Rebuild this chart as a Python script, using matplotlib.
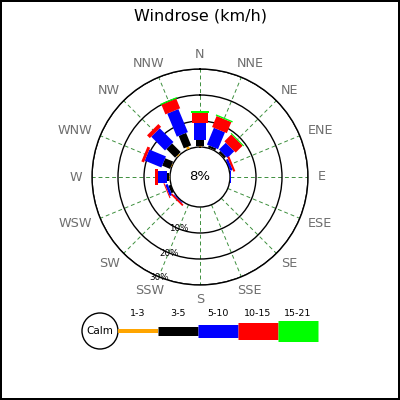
import numpy as np
import matplotlib
matplotlib.use("Agg")
import matplotlib.pyplot as plt
from matplotlib.patches import Circle

# wind directions, clockwise from north
directions = ['N', 'NNE', 'NE', 'ENE', 'E', 'ESE', 'SE', 'SSE',
              'S', 'SSW', 'SW', 'WSW', 'W', 'WNW', 'NW', 'NNW']

# percentage of time per speed range (km/h) and direction
ranges = ['1-3', '3-5', '5-10', '10-15', '15-21']
r_1_3 = [0.2, 0.2, 0.2, 0.0, 0.0, 0.0, 0.0, 0.0, 0.0, 0.0, 0.0, 0.0, 0.2, 0.3, 0.5, 1.0]
r_3_5 = [2.4, 0.8, 0.9, 0.2, 0.1, 0.0, 0.0, 0.0, 0.0, 0.0, 0.2, 1.0, 1.0, 3.3, 4.7, 5.2]
r_5_10 = [6.8, 7.0, 3.7, 0.9, 0.4, 0.0, 0.0, 0.0, 0.0, 0.0, 0.3, 1.0, 3.6, 6.9, 7.5, 9.6]
r_10_15 = [3.7, 4.6, 3.8, 0.8, 0.0, 0.0, 0.0, 0.0, 0.0, 0.0, 0.7, 0.4, 0.9, 1.1, 1.5, 4.0]
r_15_21 = [0.6, 0.5, 0.4, 0.0, 0.0, 0.0, 0.0, 0.0, 0.0, 0.0, 0.0, 0.0, 0.0, 0.0, 0.0, 0.5]
calm = 8

rings = [10, 20, 30]

colors = ['#ffa500', '#000000', '#0000ff', '#ff0000', '#00ff00']
bar_px = [3, 8, 12, 16, 18]       # leg widths in the rose (pixels)
legend_px = [4, 9, 13, 17, 21]    # leg widths in the legend (pixels)
PT = 0.72                         # pixels -> points at dpi 100


def main():
    fig = plt.figure(figsize=(4, 4), dpi=100)
    fig.patch.set_facecolor('white')
    fig.patch.set_edgecolor('black')
    fig.patch.set_linewidth(1.5)

    # rose: centre (200, 177) px, outer ring radius 108 px, calm radius 30 px
    R = 108
    cx, cy = 200, 177
    ax = fig.add_axes([(cx - R) / 400, (400 - cy - R) / 400, 2 * R / 400, 2 * R / 400],
                      projection='polar')
    ax.set_theta_zero_location('N')
    ax.set_theta_direction(-1)
    ax.set_ylim(0, 30)
    px_per = (R - 30) / 30.0
    ax.set_rorigin(-30 / px_per)

    theta = np.deg2rad(np.arange(16) * 22.5)
    ax.set_xticks(theta)
    ax.set_xticklabels([])
    ax.set_yticks(rings)
    ax.set_yticklabels([])
    ax.tick_params(length=0)
    ax.xaxis.grid(True, color='#3d8f3d', linestyle=(0, (4, 3)), linewidth=0.7)
    ax.yaxis.grid(True, color='black', linestyle='-', linewidth=1.0)
    for name in ax.spines:
        ax.spines[name].set_color('black')
        ax.spines[name].set_linewidth(1.0)

    # legs, stacked from the calm circle outward
    data = np.array([r_1_3, r_3_5, r_5_10, r_10_15, r_15_21])
    cum = np.vstack([np.zeros(16), np.cumsum(data, axis=0)])
    for k in range(len(ranges)):
        for i in range(16):
            if data[k, i] <= 0:
                continue
            ax.plot([theta[i], theta[i]], [cum[k, i], cum[k + 1, i]],
                    color=colors[k], linewidth=bar_px[k] * PT,
                    solid_capstyle='butt', zorder=3)

    # compass labels: the box sits just outside radius 118 px
    renderer = fig.canvas.get_renderer()
    r_lab = 118 / px_per - 30 / px_per
    for t, name in zip(theta, directions):
        txt = ax.annotate(name, xy=(t, r_lab), xytext=(0, 0),
                          textcoords='offset points', ha='center', va='center',
                          fontsize=9.2, color='#6e6e6e', annotation_clip=False)
        bb = txt.get_window_extent(renderer)
        ux, uy = np.sin(t), np.cos(t)
        txt.set_position((bb.width / 2 * ux * PT, 4.5 * uy * PT))

    # ring labels
    for r in rings:
        ax.text(np.deg2rad(202), r, f'{r}%', ha='center', va='center',
                fontsize=6.3, color='black', zorder=4)

    ax.text(0.5, 0.5, f'{calm}%', transform=ax.transAxes, ha='center',
            va='center', fontsize=9.5)

    fig.text(0.5, 1 - 16 / 400, 'Windrose (km/h)', ha='center', va='center',
             fontsize=11.5)

    # legend in pixel coordinates
    lg = fig.add_axes([0, 0, 1, 1])
    lg.set_xlim(0, 400)
    lg.set_ylim(400, 0)
    lg.axis('off')
    ly = 331
    lg.add_patch(Circle((100, ly), 18, facecolor='white', edgecolor='black',
                        linewidth=1.0))
    lg.text(100, ly, 'Calm', ha='center', va='center', fontsize=7.5)
    x0, seg = 118, 40
    for k, lab in enumerate(ranges):
        xa = x0 + k * seg
        lg.plot([xa, xa + seg], [ly, ly], color=colors[k],
                linewidth=legend_px[k] * PT, solid_capstyle='butt')
        lg.text(xa + seg / 2, 314, lab, ha='center', va='center', fontsize=6.8)

    fig.savefig('out.png', dpi=100)


if __name__ == "__main__":
    main()
